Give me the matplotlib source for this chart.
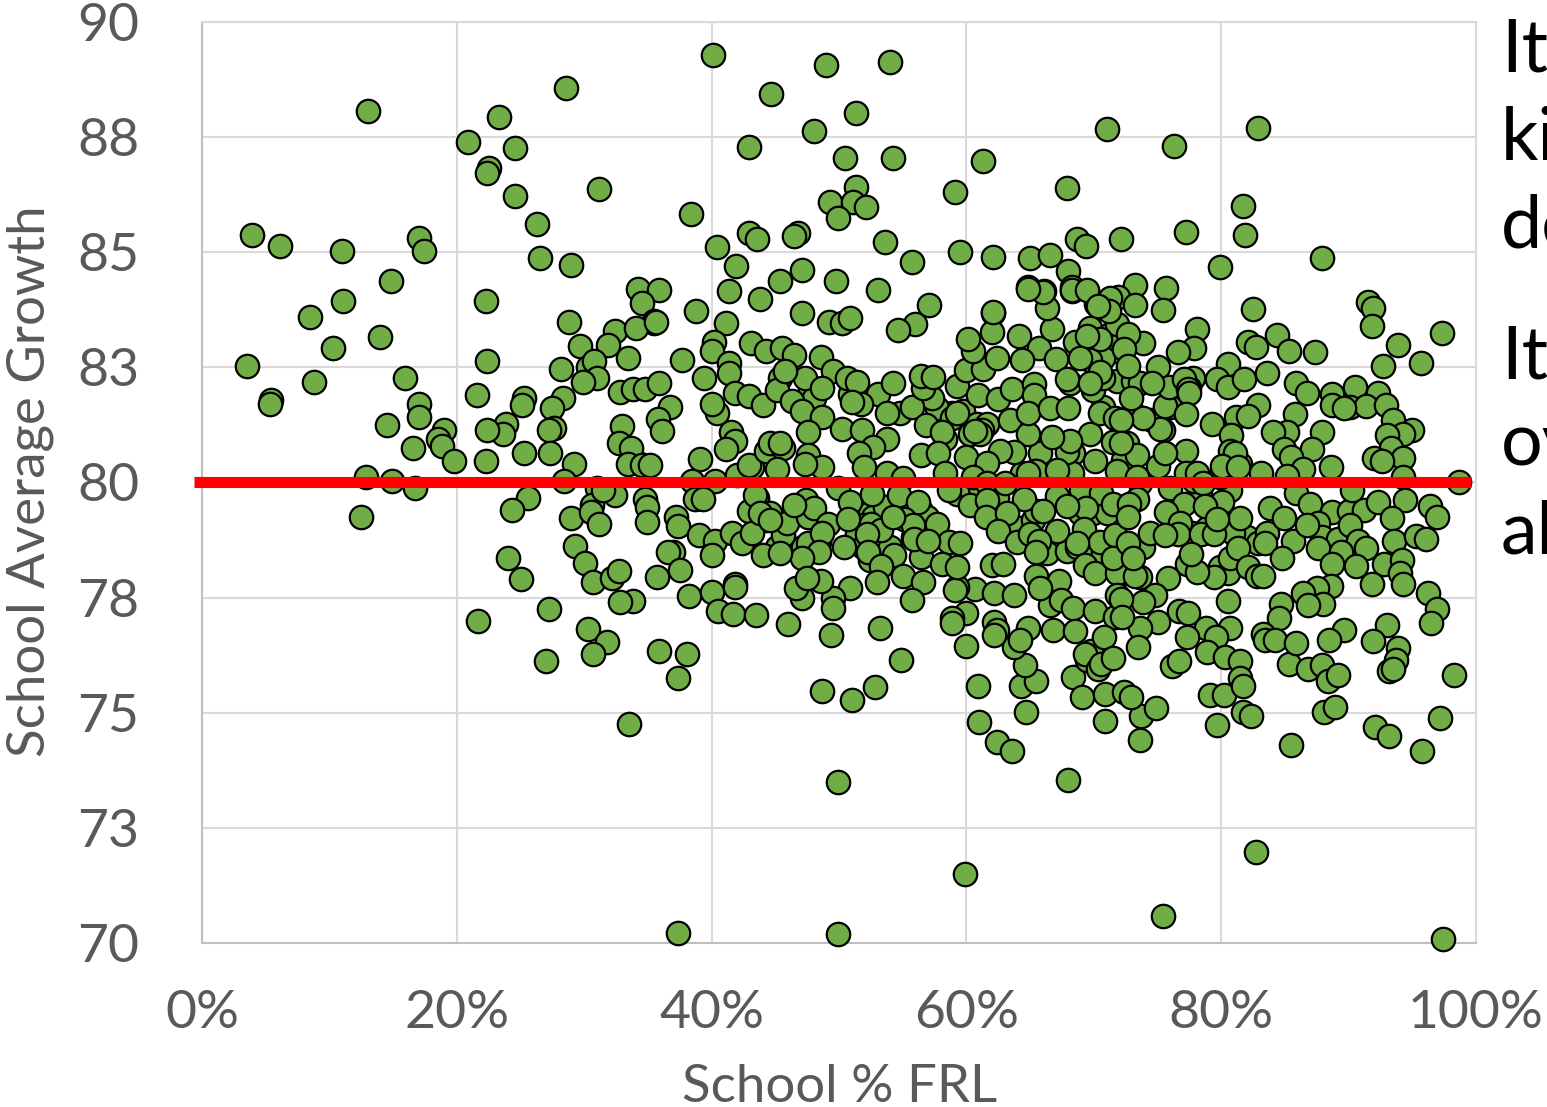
import matplotlib
matplotlib.use("Agg")
import matplotlib.pyplot as plt
import numpy as np

# (School % FRL, School Average Growth)
schools_top = [
    (40.1, 89.28), (49.0, 89.07), (54.0, 89.13), (44.7, 88.44), (28.6, 88.57), (13.0, 88.07), (23.3, 87.94),
    (51.3, 88.02), (48.0, 87.63), (71.0, 87.68), (82.9, 87.70), (20.9, 87.39), (24.6, 87.26), (42.9, 87.29),
    (76.3, 87.31), (50.5, 87.05), (54.2, 87.05), (61.3, 86.98), (22.5, 86.83), (22.4, 86.72), (31.2, 86.37),
    (24.6, 86.22), (67.9, 86.40), (59.1, 86.31), (51.3, 86.42), (49.3, 86.09), (51.1, 86.09), (52.1, 85.98),
    (38.4, 85.83), (49.9, 85.74), (81.7, 86.00), (26.3, 85.61), (42.9, 85.42), (43.6, 85.29), (46.8, 85.42),
    (46.5, 85.35), (53.6, 85.22), (72.1, 85.29), (68.7, 85.29), (69.4, 85.14), (77.2, 85.44), (81.9, 85.37),
    (40.4, 85.11), (59.5, 85.00), (62.1, 84.90), (65.0, 84.88), (66.6, 84.94), (87.9, 84.88), (26.5, 84.88),
    (55.7, 84.79), (29.0, 84.72), (41.9, 84.70), (47.1, 84.61), (68.0, 84.59), (79.9, 84.68), (45.4, 84.38),
    (49.8, 84.38), (34.2, 84.20), (35.9, 84.18), (41.4, 84.16), (53.1, 84.18), (64.8, 84.25), (66.1, 84.16),
    (68.3, 84.16), (68.3, 84.25), (73.2, 84.29), (75.7, 84.22), (43.8, 83.98), (22.3, 83.94), (34.5, 83.90),
    (70.2, 83.88), (71.9, 84.03), (71.0, 83.77), (73.2, 83.86), (91.5, 83.91), (91.9, 83.80), (75.4, 83.75),
    (82.5, 83.77), (57.1, 83.86), (38.8, 83.72), (47.1, 83.68), (62.1, 83.68), (28.8, 83.49), (35.5, 83.51),
    (35.5, 83.47), (41.1, 83.46), (49.2, 83.49), (50.2, 83.46), (50.9, 83.57), (56.0, 83.44), (54.6, 83.31),
    (91.8, 83.39), (97.3, 83.25), (93.9, 82.99), (92.7, 82.52), (95.7, 82.59),
]

schools_left = [
    (3.5, 82.54), (5.4, 81.80), (5.3, 81.71), (8.8, 82.19), (15.9, 82.28), (17.0, 81.71), (17.0, 81.43),
    (14.5, 81.24), (16.6, 80.74), (12.9, 80.13), (14.9, 80.04), (16.7, 79.89), (12.5, 79.26), (10.3, 82.93),
    (14.0, 83.15), (8.5, 83.59), (11.1, 83.95), (11.0, 85.03), (14.8, 84.38), (3.9, 85.38), (6.1, 85.14),
    (17.0, 85.32), (17.4, 85.03),
]

schools_low_frl = [
    (22.4, 82.63), (21.6, 81.91), (29.7, 82.97), (32.4, 83.30), (31.9, 82.99), (33.4, 82.71), (30.3, 82.50),
    (30.8, 82.63), (31.0, 82.26), (29.9, 82.19), (28.2, 82.47), (34.1, 83.36), (35.6, 83.49), (40.2, 83.06),
    (40.0, 82.86), (37.7, 82.67), (39.4, 82.26), (41.4, 82.60), (41.4, 82.37), (43.1, 83.02), (44.3, 82.86),
    (32.8, 81.97), (33.8, 82.02), (34.8, 82.04), (35.9, 82.17), (36.7, 81.63), (35.8, 81.37), (36.1, 81.11),
    (33.0, 81.22), (32.7, 80.85), (33.7, 80.74), (33.4, 80.41), (34.5, 80.37), (35.2, 80.39), (28.3, 81.84),
    (27.5, 81.61), (27.6, 81.19), (27.2, 81.15), (27.3, 80.65), (25.3, 81.84), (25.1, 81.69), (23.9, 81.28),
    (23.6, 81.06), (22.4, 81.13), (22.3, 80.46), (25.3, 80.65), (29.2, 80.41), (28.4, 80.04), (19.0, 81.15),
    (18.5, 80.95), (18.8, 80.80), (19.8, 80.46), (25.6, 79.67), (24.3, 79.41), (29.0, 79.22), (30.6, 79.52),
    (30.5, 79.37), (31.2, 79.09), (32.4, 79.72), (31.5, 79.83), (34.8, 79.65), (34.9, 79.46), (34.9, 79.15),
    (39.1, 80.50), (38.5, 80.04), (40.3, 80.04), (42.0, 80.17), (38.7, 79.65), (39.3, 79.65), (37.2, 79.24),
    (37.4, 79.05), (39.0, 78.87), (40.3, 78.72), (41.6, 78.91), (42.4, 78.68), (43.2, 78.91), (40.0, 78.42),
    (37.0, 78.50), (36.6, 78.50), (37.5, 78.09), (35.7, 77.94), (29.3, 78.63), (30.1, 78.26), (30.7, 77.83),
    (32.2, 77.92), (32.7, 78.07), (24.0, 78.35), (25.0, 77.90), (33.8, 77.42), (32.8, 77.40), (27.2, 77.25),
    (21.7, 77.00), (30.3, 76.81), (38.2, 77.53), (40.0, 77.62), (41.8, 77.79), (41.8, 77.74), (40.5, 77.22),
    (41.7, 77.14), (43.5, 77.12), (44.0, 78.42), (43.4, 79.72), (44.6, 79.33), (43.8, 79.33), (41.5, 81.09),
    (41.8, 80.91), (41.1, 80.72), (40.4, 81.52), (40.0, 81.71), (41.8, 81.95), (42.9, 81.87), (44.0, 81.69),
    (42.9, 80.37), (44.3, 80.69), (44.6, 80.85),
]

# points half hidden in the crowded middle
schools_crowded = [
    (43.6, 79.67), (42.9, 79.39), (44.3, 79.18), (34.2, 80.43), (31.0, 79.87), (43.2, 80.33), (47.7, 81.99),
    (45.4, 82.28), (48.0, 81.84), (51.1, 81.82), (50.9, 81.93), (58.9, 81.50), (59.7, 81.56), (57.7, 81.61),
    (57.3, 81.84), (54.8, 81.50), (60.8, 81.28), (61.6, 81.28), (60.3, 81.06), (65.8, 80.63), (68.4, 80.65),
    (64.4, 80.20), (65.4, 80.26), (68.3, 80.20), (53.0, 79.46), (52.4, 79.33), (52.7, 79.24), (53.6, 79.46),
    (56.4, 79.39), (56.9, 79.24), (52.0, 79.07), (51.4, 78.89), (51.9, 78.59), (54.0, 78.59), (52.4, 78.31),
    (55.8, 78.81), (48.4, 78.70), (47.2, 78.59), (47.6, 78.68), (45.1, 78.59), (64.2, 79.02), (65.2, 79.18),
    (64.8, 78.81), (66.3, 78.46), (67.9, 78.52), (68.7, 78.59), (69.7, 78.52), (70.7, 78.46), (68.9, 79.33),
    (69.9, 79.33), (71.0, 79.33), (65.5, 79.39), (59.3, 79.76), (60.3, 79.89), (61.1, 79.87), (62.4, 79.67),
    (70.7, 81.63), (69.9, 82.00), (68.1, 82.15), (71.8, 82.21), (70.7, 82.28), (71.8, 82.86), (70.7, 82.71),
    (69.7, 82.65), (69.7, 83.36), (71.3, 83.23), (71.8, 83.45), (71.3, 84.01), (72.8, 78.09), (73.6, 77.94),
    (73.9, 78.59), (72.2, 78.03), (76.5, 79.02), (77.7, 78.91), (78.9, 79.02), (77.3, 78.24), (79.9, 78.16),
    (80.5, 78.03), (80.7, 78.37), (82.0, 78.81), (82.9, 78.68), (78.3, 79.76), (77.9, 80.04), (80.7, 79.83),
    (79.9, 80.11), (81.5, 80.41), (77.8, 82.28), (77.5, 82.06), (76.5, 81.84), (76.0, 81.63), (74.6, 81.35),
    (75.4, 81.13), (73.1, 81.50), (73.1, 82.21), (73.6, 82.15), (72.6, 80.85), (72.3, 80.48), (73.6, 79.98),
]

schools_mid_frl = [
    (45.5, 82.93), (46.5, 82.76), (48.6, 82.73), (49.5, 82.43), (50.6, 82.28), (51.4, 82.19), (47.3, 82.28),
    (48.7, 82.06), (45.1, 82.00), (45.8, 82.43), (46.3, 81.76), (47.1, 81.56), (48.7, 81.43), (50.2, 81.17),
    (47.6, 81.09), (51.8, 81.15), (53.8, 80.95), (52.7, 80.78), (51.6, 80.63), (52.0, 80.33), (53.8, 80.20),
    (55.0, 80.09), (45.6, 80.76), (45.4, 80.85), (47.6, 80.59), (48.7, 80.33), (45.1, 80.30), (47.3, 80.41),
    (53.1, 81.93), (54.2, 82.15), (51.7, 81.71), (51.0, 81.74), (53.8, 81.50), (55.7, 81.63), (56.6, 82.06),
    (56.4, 82.32), (57.4, 82.30), (59.3, 82.10), (60.0, 82.45), (61.3, 82.47), (60.9, 81.89), (62.5, 81.82),
    (63.6, 82.04), (65.3, 82.13), (65.3, 81.89), (62.4, 82.71), (60.5, 82.86), (60.1, 83.12), (62.0, 83.26),
    (62.1, 83.71), (64.1, 83.19), (65.7, 82.93), (64.4, 82.65), (67.0, 82.69), (67.9, 82.24), (68.5, 83.06),
    (66.7, 83.34), (66.3, 83.78), (66.0, 84.14), (64.8, 84.21), (68.3, 84.19), (69.5, 84.17), (71.2, 83.73),
    (70.3, 83.84), (70.5, 83.12), (69.5, 83.19), (68.9, 82.71), (70.5, 82.39), (69.7, 82.15), (58.9, 81.41),
    (59.3, 81.52), (56.8, 81.24), (58.3, 80.95), (58.1, 81.09), (56.4, 80.59), (57.8, 80.63), (60.0, 80.56),
    (61.2, 81.13), (61.1, 81.06), (60.7, 81.11), (63.4, 81.35), (64.8, 81.06), (64.8, 81.50), (66.6, 81.61),
    (68.0, 81.61), (69.7, 81.06), (70.5, 81.50), (71.7, 81.39), (71.5, 80.87), (70.1, 80.46), (67.9, 80.67),
    (68.1, 80.91), (66.7, 80.98), (63.7, 80.67), (62.6, 80.69), (61.6, 80.43), (58.3, 80.20), (65.5, 80.26),
    (67.1, 80.28), (60.5, 80.11), (61.6, 79.98), (63.0, 79.98), (64.8, 80.20), (71.8, 80.26), (47.4, 79.61),
    (49.9, 79.87), (50.9, 79.57), (52.6, 79.76), (54.7, 79.72), (56.2, 79.57), (58.6, 79.83), (60.3, 79.52),
    (61.6, 79.61), (64.5, 79.65), (67.1, 79.70), (69.0, 79.83), (70.6, 79.78), (71.5, 79.54), (69.4, 79.44),
    (66.0, 79.39), (67.9, 79.50), (61.5, 79.24), (63.2, 79.33), (62.5, 78.94), (64.0, 78.70), (65.0, 78.89),
    (67.1, 78.94), (69.2, 79.00), (65.7, 78.74), (65.5, 78.48), (70.5, 78.70), (71.7, 78.87), (68.7, 78.68),
    (69.3, 78.20), (70.1, 78.03), (71.8, 78.03), (71.8, 77.55), (67.3, 77.87), (65.5, 77.96), (62.0, 78.20),
    (62.9, 78.22), (60.7, 77.68), (59.3, 77.72), (59.1, 77.66), (62.2, 77.59), (63.7, 77.55), (60.0, 77.16),
    (58.9, 77.05), (58.9, 76.94), (62.2, 76.98), (62.4, 76.79), (64.8, 76.83), (66.8, 76.79), (66.6, 77.33),
    (67.4, 77.44), (68.4, 77.27), (70.1, 77.20), (71.7, 77.07), (65.8, 77.70), (71.5, 78.37), (45.6, 78.85),
    (45.9, 79.11), (44.6, 79.18), (47.6, 79.24), (48.0, 79.44), (46.5, 79.52), (49.1, 79.09), (48.7, 78.91),
    (50.7, 79.20), (50.4, 78.59), (48.4, 78.48), (47.1, 78.37), (45.4, 78.46), (52.5, 79.09), (53.3, 78.96),
    (52.2, 78.89), (52.3, 78.50), (54.3, 78.42), (55.1, 79.20), (55.8, 79.07), (54.2, 79.24), (57.7, 79.09),
    (58.6, 78.70), (59.5, 78.68), (56.4, 78.39), (58.1, 78.22), (59.3, 78.16), (55.9, 78.78), (57.0, 78.74),
    (53.3, 78.18), (53.0, 77.83), (55.0, 77.98), (56.6, 77.83), (55.7, 77.44), (50.9, 77.70), (49.5, 77.50),
    (49.5, 77.27), (48.6, 77.87), (47.1, 77.50), (46.6, 77.70), (47.5, 77.92), (46.0, 76.92), (49.4, 76.68),
    (53.2, 76.83),
]

schools_high_frl = [
    (78.1, 83.34), (77.9, 82.93), (76.6, 82.84), (73.9, 83.04), (72.7, 83.23), (72.4, 82.89), (72.7, 82.52),
    (75.0, 82.50), (82.1, 83.06), (82.7, 82.95), (84.4, 83.21), (85.3, 82.86), (87.4, 82.84), (80.5, 82.58),
    (79.7, 82.24), (80.5, 82.08), (81.8, 82.24), (83.6, 82.37), (85.9, 82.15), (86.7, 81.95), (88.7, 81.93),
    (90.5, 82.08), (92.3, 81.95), (88.7, 81.69), (90.1, 81.65), (91.4, 81.67), (92.9, 81.69), (89.6, 81.61),
    (93.5, 81.35), (95.0, 81.15), (94.3, 81.06), (93.0, 81.04), (93.3, 80.74), (94.3, 80.54), (92.0, 80.54),
    (92.6, 80.46), (94.3, 80.11), (98.7, 80.02), (88.6, 80.33), (87.9, 81.09), (87.1, 80.72), (85.8, 81.48),
    (85.2, 81.09), (84.1, 81.09), (84.9, 80.72), (85.5, 80.56), (86.4, 80.30), (85.2, 80.15), (83.1, 80.20),
    (82.9, 81.69), (81.2, 81.43), (82.1, 81.45), (79.3, 81.28), (80.8, 81.04), (80.7, 80.69), (81.1, 80.63),
    (80.1, 80.35), (81.3, 80.33), (77.2, 80.69), (75.0, 80.35), (73.4, 80.59), (75.6, 80.65), (75.2, 81.17),
    (73.9, 81.41), (72.9, 81.84), (75.6, 81.67), (75.9, 82.08), (77.1, 82.24), (74.6, 82.17), (77.4, 82.04),
    (77.5, 81.95), (77.2, 81.48), (72.1, 81.35), (72.1, 80.85), (77.2, 80.20), (78.1, 80.20), (73.4, 80.11),
    (78.6, 79.98), (76.0, 79.89), (73.4, 79.65), (72.8, 79.54), (77.1, 79.54), (80.1, 79.57), (78.7, 79.50),
    (75.7, 79.35), (76.8, 79.13), (76.6, 78.89), (74.4, 78.91), (78.4, 78.89), (80.9, 78.91), (81.5, 79.22),
    (72.7, 79.24), (72.7, 78.68), (79.4, 78.89), (79.7, 79.20), (75.6, 78.85), (81.3, 78.57), (83.6, 78.91),
    (83.4, 78.68), (83.8, 79.44), (84.9, 79.22), (85.6, 78.74), (84.8, 78.35), (85.9, 79.78), (87.0, 79.54),
    (88.7, 79.35), (87.6, 79.13), (87.9, 78.81), (89.2, 78.78), (87.6, 78.57), (86.7, 79.07), (90.0, 79.39),
    (91.2, 79.41), (90.3, 79.83), (92.3, 79.57), (94.4, 79.63), (96.4, 79.48), (96.9, 79.24), (93.4, 79.22),
    (90.1, 79.07), (90.7, 78.74), (91.4, 78.57), (93.6, 78.72), (95.3, 78.83), (96.1, 78.78), (89.4, 78.50),
    (88.7, 78.24), (90.6, 78.18), (92.8, 78.24), (94.2, 78.31), (91.8, 77.79), (94.0, 78.03), (94.3, 77.79),
    (96.2, 77.61), (96.9, 77.25), (96.5, 76.94), (93.0, 76.90), (88.6, 77.76), (87.5, 77.70), (88.0, 77.37),
    (86.4, 77.59), (86.8, 77.33), (84.7, 77.37), (84.5, 77.05), (89.6, 76.79), (83.3, 76.72), (82.1, 78.16),
    (82.8, 77.98), (83.3, 77.98), (79.4, 77.94), (78.1, 78.05), (75.8, 77.92), (77.6, 78.44), (73.2, 77.98),
    (73.1, 78.37), (74.8, 77.55), (73.9, 77.40), (76.7, 77.22), (77.4, 77.16), (75.0, 76.98), (78.8, 76.85),
    (80.5, 77.42), (80.7, 76.83), (72.1, 77.48), (73.6, 76.85), (72.2, 77.07),
]

schools_bottom = [
    (31.8, 76.53), (30.7, 76.27), (27.0, 76.12), (35.9, 76.35), (38.1, 76.27), (37.4, 75.75), (33.5, 74.75),
    (54.9, 76.14), (52.8, 75.55), (48.7, 75.47), (51.0, 75.27), (49.9, 73.49), (60.0, 76.44), (60.9, 75.59),
    (61.0, 74.79), (62.4, 74.36), (63.6, 74.18), (64.7, 75.01), (64.3, 75.59), (65.5, 75.70), (64.6, 76.03),
    (63.7, 76.42), (64.2, 76.57), (62.2, 76.68), (68.5, 76.77), (68.4, 75.77), (69.1, 75.34), (70.9, 75.40),
    (70.9, 74.83), (68.0, 73.55), (73.7, 74.92), (74.9, 75.10), (72.4, 75.44), (72.9, 75.35), (73.6, 74.40),
    (69.8, 76.35), (70.8, 76.64), (69.5, 76.14), (69.3, 76.27), (70.3, 75.96), (70.6, 76.05), (71.5, 76.18),
    (73.5, 76.42), (76.1, 76.01), (76.7, 76.12), (77.3, 76.64), (79.6, 76.64), (78.9, 76.31), (80.3, 76.22),
    (81.5, 76.12), (79.1, 75.38), (80.2, 75.38), (79.7, 74.73), (81.5, 75.75), (81.7, 75.59), (81.7, 75.01),
    (82.3, 74.92), (82.7, 71.97), (83.4, 76.57), (84.2, 76.57), (85.3, 76.05), (85.9, 76.51), (86.8, 75.96),
    (88.5, 76.57), (87.9, 76.03), (88.4, 75.70), (89.2, 75.83), (88.1, 75.01), (88.9, 75.12), (85.5, 74.31),
    (92.1, 74.70), (93.2, 74.49), (91.9, 76.55), (93.9, 76.40), (93.7, 76.14), (93.2, 75.90), (93.5, 75.96),
    (98.3, 75.83), (97.2, 74.88), (95.8, 74.16), (97.4, 70.09), (59.9, 71.50), (75.4, 70.58), (37.4, 70.22),
    (49.9, 70.20),
]

x_ticks = [0, 20, 40, 60, 80, 100]
x_tick_labels = ["0%", "20%", "40%", "60%", "80%", "100%"]
y_ticks = [70, 72.5, 75, 77.5, 80, 82.5, 85, 87.5, 90]
y_tick_labels = ["70", "73", "75", "78", "80", "83", "85", "88", "90"]
target_x = [-0.6, 99.6]
target_y = [80, 80]
side_text = ["It", "ki", "de", "It", "ov", "al"]
side_baselines = [72, 160, 248, 378, 466, 554]

plt.rcParams["font.family"] = ["Lato", "DejaVu Sans"]
W, H = 1547, 1107
GREY = "#595959"

fig = plt.figure(figsize=(W / 100, H / 100), dpi=100)
ax = fig.add_axes([202 / W, 1 - 943 / H, 1274 / W, 921 / H])

all_schools = (schools_top + schools_left + schools_crowded + schools_low_frl
               + schools_mid_frl + schools_high_frl + schools_bottom)
frl, growth = np.array(all_schools).T
ax.scatter(frl, growth, s=285, c="#70AD47", edgecolors="black", linewidths=1.6, zorder=3, clip_on=False)
ax.plot(target_x, target_y, color="#FF0000", lw=8, solid_capstyle="butt", zorder=4, clip_on=False)

ax.set_xlim(0, 100)
ax.set_ylim(70, 90)
ax.set_xticks(x_ticks)
ax.set_xticklabels(x_tick_labels)
ax.set_yticks(y_ticks)
ax.set_yticklabels(y_tick_labels)
ax.grid(True, color="#D9D9D9", lw=1.5, zorder=0)
ax.set_axisbelow(True)
ax.tick_params(axis="x", length=0, pad=34, labelsize=38.5, labelcolor=GREY)
ax.tick_params(axis="y", length=0, pad=45, labelsize=38.5, labelcolor=GREY)
for side in ["top", "right"]:
    ax.spines[side].set_color("#D9D9D9")
    ax.spines[side].set_linewidth(1.5)
for side in ["left", "bottom"]:
    ax.spines[side].set_color("#BFBFBF")
    ax.spines[side].set_linewidth(1.5)

fig.text(840 / W, 1 - 1087 / H, "School % FRL", fontsize=38, color=GREY, ha="center", va="center")
fig.text(30 / W, 1 - 481 / H, "School Average Growth", fontsize=38, color=GREY, rotation=90, ha="center", va="center")
for label, base in zip(side_text, side_baselines):
    fig.text(1501 / W, 1 - base / H, label, fontsize=53, color="black", ha="left", va="baseline")

fig.savefig("out.png", dpi=100)
